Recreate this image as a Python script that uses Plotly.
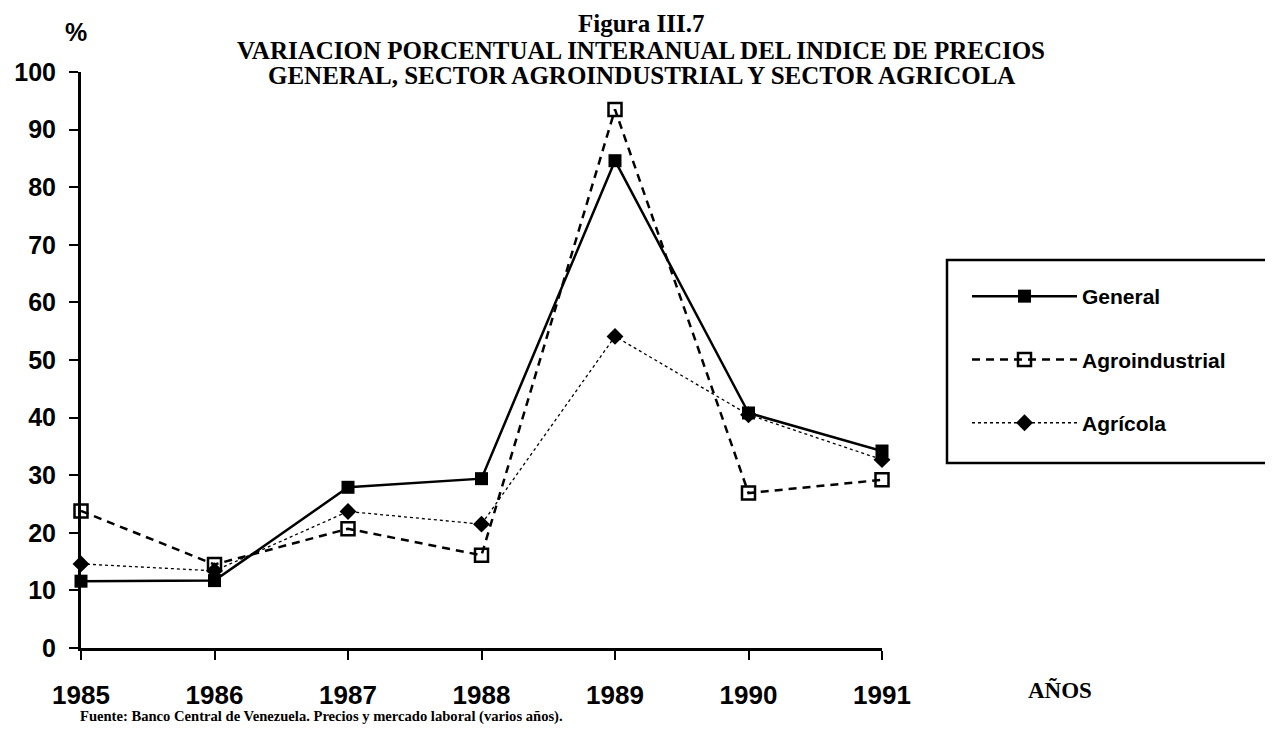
import plotly.graph_objects as go

years = [1985, 1986, 1987, 1988, 1989, 1990, 1991]
general = [11.6, 11.7, 27.9, 29.4, 84.6, 40.8, 34.2]
agroindustrial = [23.8, 14.5, 20.7, 16.1, 93.5, 26.9, 29.2]
agricola = [14.6, 13.4, 23.7, 21.5, 54.1, 40.5, 32.7]
y_ticks = [0, 10, 20, 30, 40, 50, 60, 70, 80, 90, 100]

# page has an 8px body margin; figure sized to fit the window
OFF = 8
W, H = 1265, 733
L, R, T, B = 73, 391, 64, 93

def px(X):
    return (X - OFF - L) / (W - L - R)

def py(Y):
    return (H - B - (Y - OFF)) / (H - T - B)

sans = "Liberation Sans"
serif = "Liberation Serif"

fig = go.Figure()
fig.add_trace(go.Scatter(
    x=years, y=general, name="General", mode="lines+markers",
    line=dict(color="black", width=2.5, dash="solid"),
    marker=dict(symbol="square", size=13, color="black"),
    cliponaxis=False, legendgroup="g1"))
fig.add_trace(go.Scatter(
    x=years, y=agroindustrial, name="Agroindustrial", mode="lines+markers",
    line=dict(color="black", width=2.5, dash="8px,6px"),
    marker=dict(symbol="square-open", size=13, color="black", line=dict(width=2.5)),
    cliponaxis=False, legendgroup="g2"))
fig.add_trace(go.Scatter(
    x=years, y=agricola, name="Agrícola", mode="lines+markers",
    line=dict(color="black", width=1.3, dash="dot"),
    marker=dict(symbol="diamond", size=13, color="black"),
    cliponaxis=False, legendgroup="g3"))

fig.update_layout(
    width=W, height=H,
    margin=dict(l=L, r=R, t=T, b=B, autoexpand=False),
    paper_bgcolor="white", plot_bgcolor="white",
    showlegend=True,
    legend=dict(
        xref="container", yref="container",
        x=(967 - OFF) / W, y=1 - (276 - OFF) / H, xanchor="left", yanchor="top",
        font=dict(family=sans, size=21, color="black", weight="bold"),
        bgcolor="rgba(0,0,0,0)", borderwidth=0,
        itemwidth=105, tracegroupgap=33,
    ),
    xaxis=dict(
        range=[1985, 1991], tickmode="array", tickvals=years,
        ticktext=[str(y) for y in years], automargin=False,
        showgrid=False, zeroline=False, showline=True,
        linecolor="black", linewidth=3,
        ticks="outside", ticklen=9, tickwidth=2, tickcolor="black",
        ticklabelstandoff=13,
        tickfont=dict(family=sans, size=26, color="black", weight="bold"),
    ),
    yaxis=dict(
        range=[0, 100], tickmode="array", tickvals=y_ticks, automargin=False,
        showgrid=False, zeroline=False, showline=True,
        linecolor="black", linewidth=3,
        ticks="outside", ticklen=9, tickwidth=2, tickcolor="black",
        ticklabelstandoff=8,
        tickfont=dict(family=sans, size=25, color="black", weight="bold"),
    ),
)

# legend frame (runs off the right edge, as in the reference)
fig.add_shape(type="rect", xref="paper", yref="paper",
              x0=px(947), x1=px(1300), y0=py(463), y1=py(260),
              line=dict(color="black", width=2.5), fillcolor="rgba(0,0,0,0)")

title_lines = [
    ("Figura III.7", 23),
    ("VARIACION PORCENTUAL INTERANUAL DEL INDICE DE PRECIOS", 50),
    ("GENERAL, SECTOR AGROINDUSTRIAL Y SECTOR AGRICOLA", 76),
]
for txt, ypx in title_lines:
    fig.add_annotation(text=txt, xref="paper", yref="paper",
                       x=px(641), y=py(ypx),
                       xanchor="center", yanchor="middle", showarrow=False,
                       font=dict(family=serif, size=25, color="black", weight="bold"))

fig.add_annotation(text="%", xref="paper", yref="paper",
                   x=px(76), y=py(32),
                   xanchor="center", yanchor="middle", showarrow=False,
                   font=dict(family=sans, size=25, color="black", weight="bold"))
fig.add_annotation(text="AÑOS", xref="paper", yref="paper",
                   x=px(1060), y=py(690),
                   xanchor="center", yanchor="middle", showarrow=False,
                   font=dict(family=serif, size=23, color="black", weight="bold"))
fig.add_annotation(text="Fuente: Banco Central de Venezuela. Precios y mercado laboral (varios años).",
                   xref="paper", yref="paper",
                   x=px(78), y=py(716),
                   xanchor="left", yanchor="middle", showarrow=False,
                   font=dict(family=serif, size=14.6, color="black", weight="bold"))

fig.write_html("out.html")
